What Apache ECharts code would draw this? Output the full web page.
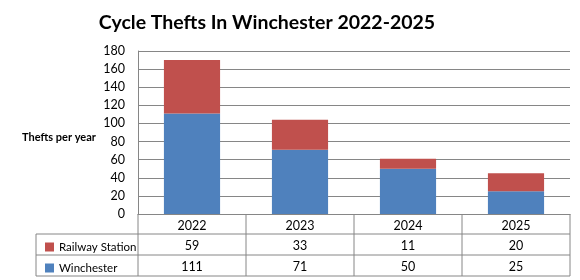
<!DOCTYPE html>
<html>
<head>
<meta charset="utf-8">
<script src="https://cdn.jsdelivr.net/npm/echarts@6/dist/echarts.min.js"></script>
<style>
  html, body { margin: 0; padding: 0; background: #fff; }
  #chart { width: 580px; height: 280px; }
</style>
</head>
<body>
<div id="chart"></div>
<script>
// data
var years = ["2022", "2023", "2024", "2025"];
var railwayStation = [59, 33, 11, 20];
var winchester = [111, 71, 50, 25];
var yTicks = { min: 0, max: 180, interval: 20 };

var gridColor = "#868686";
var font = "Lato";
var plotLeft = 138, plotRight = 570, plotBottom = 214;
var tableLeft = 36, rowLines = [234, 255, 276];

var chart = echarts.init(document.getElementById("chart"));

// table row axes: each row is an extra category axis below the plot
function rowAxis(values, offset) {
  return {
    type: "category",
    gridIndex: 0,
    position: "bottom",
    offset: offset,
    data: values.map(String),
    axisLine: { show: false },
    axisTick: { show: false },
    axisLabel: { margin: 5, fontFamily: font, fontSize: 12.5, color: "#000" },
    splitLine: { show: false },
  };
}

function legendRow(name, top) {
  return {
    orient: "horizontal",
    left: 40,
    top: top,
    itemWidth: 9,
    itemHeight: 9,
    icon: "rect",
    data: [name],
    textStyle: { fontFamily: font, fontSize: 11.5, color: "#000" },
  };
}

// table border lines
var tableLines = [];
rowLines.forEach(function (y) {
  tableLines.push({ type: "line", shape: { x1: tableLeft, y1: y, x2: plotRight, y2: y }, style: { stroke: gridColor } });
});
tableLines.push({ type: "line", shape: { x1: tableLeft, y1: rowLines[0], x2: tableLeft, y2: rowLines[2] }, style: { stroke: gridColor } });
var colW = (plotRight - plotLeft) / years.length;
for (var i = 0; i <= years.length; i++) {
  var x = plotLeft + i * colW;
  tableLines.push({ type: "line", shape: { x1: x, y1: plotBottom, x2: x, y2: rowLines[2] }, style: { stroke: gridColor } });
}

chart.setOption({
  animation: false,
  title: [
    {
      text: "Cycle Thefts In Winchester 2022-2025",
      left: 262,
      top: 8,
      textAlign: "center",
      textStyle: { fontFamily: font, fontWeight: "bold", fontSize: 19.5, color: "#000" },
    },
    {
      // y axis caption
      text: "Thefts per year",
      left: 17,
      top: 127,
      textStyle: { fontFamily: font, fontWeight: "bold", fontSize: 11, color: "#000" },
    },
  ],
  legend: [legendRow("Railway Station", 236), legendRow("Winchester", 257)],
  grid: { left: plotLeft, right: 580 - plotRight, top: 51, bottom: 280 - plotBottom },
  xAxis: [
    {
      type: "category",
      data: years,
      axisLine: { onZero: false, lineStyle: { color: gridColor } },
      axisTick: { show: false },
      axisLabel: { margin: 5, fontFamily: font, fontSize: 12.5, color: "#000" },
    },
    rowAxis(railwayStation, 20),
    rowAxis(winchester, 41),
  ],
  yAxis: {
    type: "value",
    min: yTicks.min,
    max: yTicks.max,
    interval: yTicks.interval,
    axisLine: { show: true, lineStyle: { color: gridColor } },
    axisTick: { show: false },
    axisLabel: { margin: 13, fontFamily: font, fontSize: 12.5, color: "#000" },
    splitLine: { lineStyle: { color: gridColor } },
  },
  graphic: tableLines,
  series: [
    {
      name: "Winchester",
      type: "bar",
      stack: "thefts",
      data: winchester,
      barCategoryGap: "48%",
      itemStyle: { color: "#4f81bd" },
    },
    {
      name: "Railway Station",
      type: "bar",
      stack: "thefts",
      data: railwayStation,
      barCategoryGap: "48%",
      itemStyle: { color: "#c0504d" },
    },
  ],
});
</script>
</body>
</html>
